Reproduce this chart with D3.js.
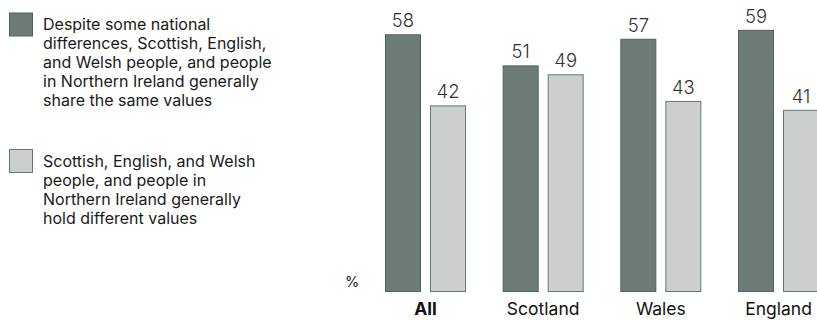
<!DOCTYPE html>
<html><head><meta charset="utf-8">
<script src="https://cdn.jsdelivr.net/npm/d3@7"></script>
<style>
html,body{margin:0;padding:0;background:#fff;}
svg{display:block;font-family:Inter,"Open Sans",sans-serif;}
</style></head>
<body>
<svg id="chart" width="817" height="320"></svg>
<script>
const categories = ["All", "Scotland", "Wales", "England"];
const seriesNames = ["Despite some national differences, Scottish, English, and Welsh people, and people in Northern Ireland generally share the same values",
  "Scottish, English, and Welsh people, and people in Northern Ireland generally hold different values"];
const shareValues = [58, 51, 57, 59];
const differentValues = [42, 49, 43, 41];
const legendLines = [
  ["Despite some national", "differences, Scottish, English,", "and Welsh people, and people", "in Northern Ireland generally", "share the same values"],
  ["Scottish, English, and Welsh", "people, and people in", "Northern Ireland generally", "hold different values"]
];
const unitLabel = "%";

const fills = ["#6e7c79", "#cccfcd"];
const strokes = ["#4e625e", "#5f7b75"];

const svg = d3.select("#chart");
const y = d3.scaleLinear().domain([0, 100]).range([292, 292 - 444.3]);
const x0 = d3.scaleBand().domain(categories).range([385, 385 + 4 * 117.67]);
const x1 = d3.scaleBand().domain([0, 1]).range([0, 81]).paddingInner(0.2);

const data = categories.map((c, i) => ({cat: c, vals: [shareValues[i], differentValues[i]]}));

const g = svg.selectAll("g.grp").data(data).join("g")
  .attr("class", "grp")
  .attr("transform", d => `translate(${x0(d.cat)},0)`);

g.selectAll("rect").data(d => d.vals.map((v, k) => ({v, k}))).join("rect")
  .attr("x", d => x1(d.k) + 0.5)
  .attr("y", d => y(d.v) + 0.5)
  .attr("width", x1.bandwidth() - 1)
  .attr("height", d => y(0) - y(d.v) - 1)
  .attr("fill", d => fills[d.k])
  .attr("stroke", d => strokes[d.k])
  .attr("stroke-width", 1);

g.selectAll("text.val").data(d => d.vals.map((v, k) => ({v, k}))).join("text")
  .attr("class", "val")
  .attr("x", d => x1(d.k) + x1.bandwidth() / 2)
  .attr("y", d => y(d.v) - 7)
  .attr("text-anchor", "middle")
  .attr("font-size", 18.5)
  .attr("font-weight", 300)
  .attr("fill", "#333")
  .text(d => d.v);

g.append("text")
  .attr("x", 40.5)
  .attr("y", 315)
  .attr("text-anchor", "middle")
  .attr("font-size", 17.5)
  .attr("font-weight", d => d.cat === "All" ? 700 : 400)
  .attr("fill", "#111")
  .text(d => d.cat);

svg.append("text").attr("x", 345).attr("y", 287).attr("font-size", 14.5)
  .attr("fill", "#222").text(unitLabel);

// legend
const legTops = [12.5, 149];
const legBase = [30, 167];
legendLines.forEach((lines, k) => {
  svg.append("rect").attr("x", 9.5).attr("y", legTops[k] + 0.5).attr("width", 23).attr("height", 23)
    .attr("fill", fills[k]).attr("stroke", strokes[k]).attr("stroke-width", 1);
  const t = svg.append("text").attr("font-size", 16).attr("fill", "#1a1a1a");
  lines.forEach((ln, j) => {
    t.append("tspan").attr("x", 43).attr("y", legBase[k] + j * 19).text(ln);
  });
});
</script>
</body></html>
